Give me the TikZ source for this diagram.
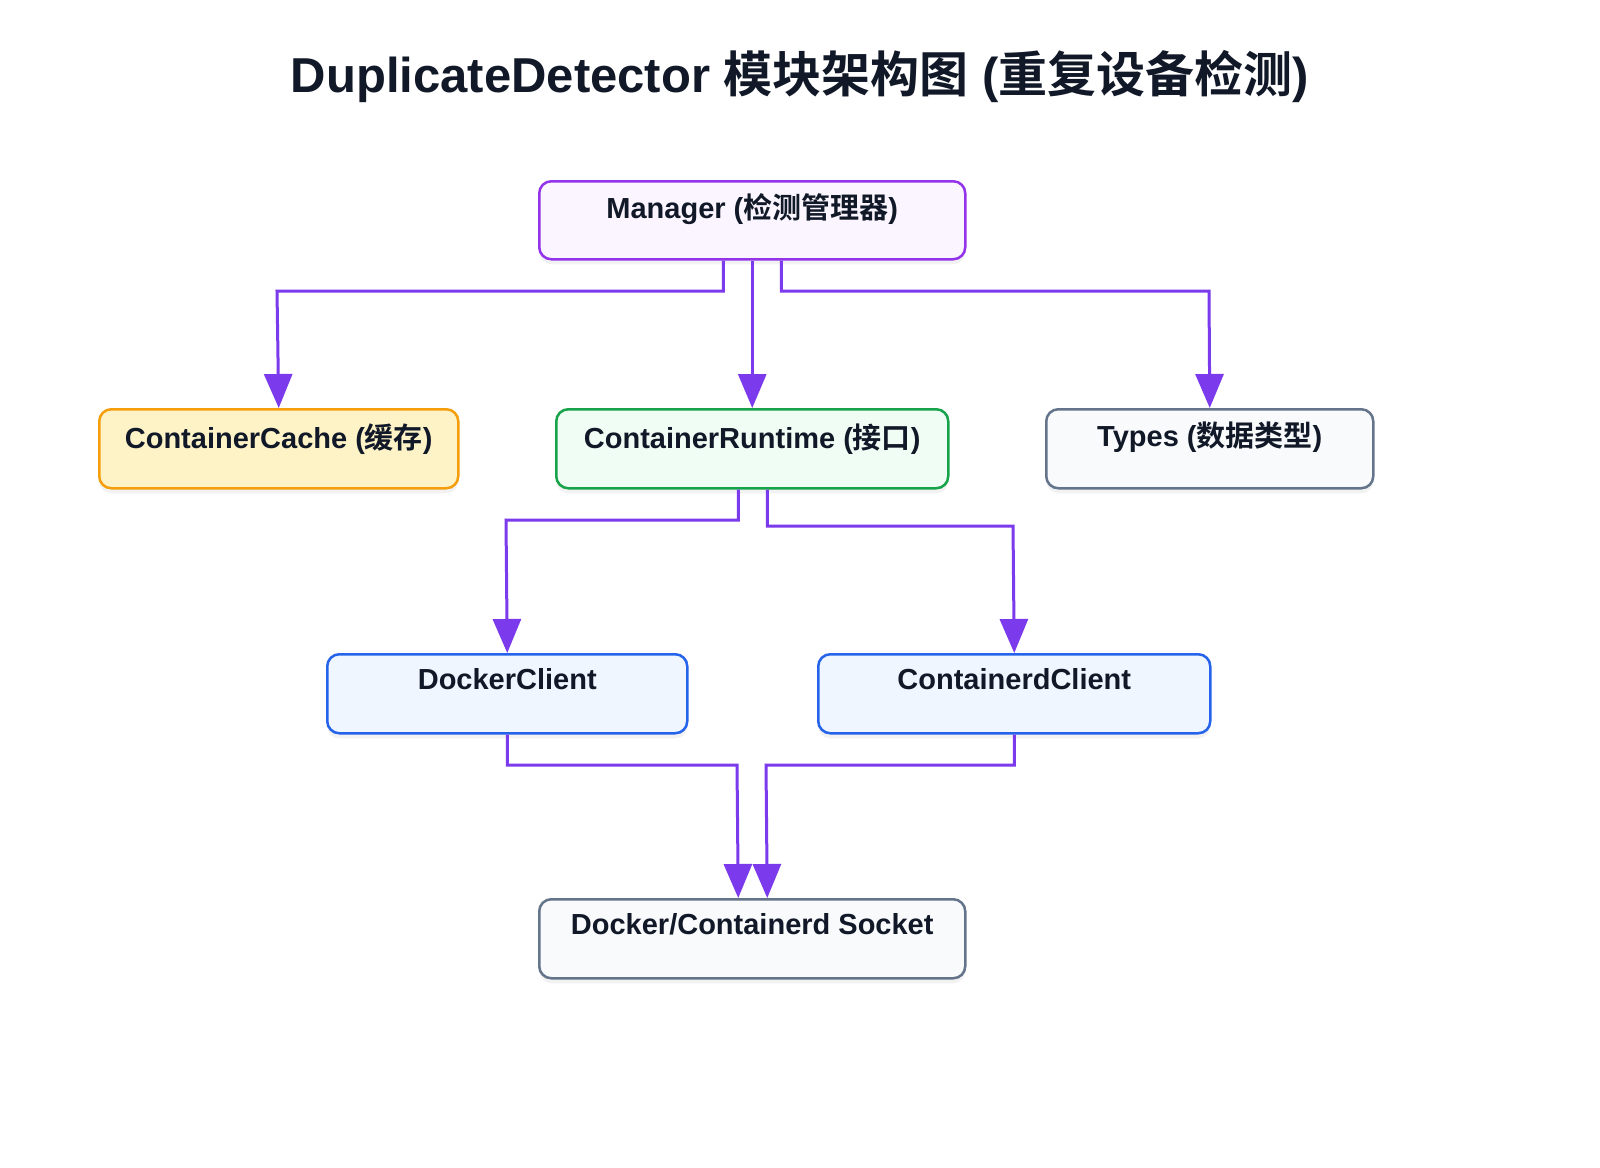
\documentclass[tikz,border=0pt]{standalone}
\usepackage{fontspec}
\setmainfont{Liberation Sans}
\newfontfamily\cjk{Noto Sans CJK SC}[BoldFont={Noto Sans CJK SC Bold}]
\usetikzlibrary{arrows.meta,calc,shadows}
\definecolor{edge}{HTML}{7C3AED}
\definecolor{ink}{HTML}{111827}
\definecolor{pB}{HTML}{9333EA}\definecolor{pF}{HTML}{FAF5FF}
\definecolor{yB}{HTML}{F59E0B}\definecolor{yF}{HTML}{FEF3C7}
\definecolor{gB}{HTML}{16A34A}\definecolor{gF}{HTML}{F0FDF4}
\definecolor{sB}{HTML}{64748B}\definecolor{sF}{HTML}{F8FAFC}
\definecolor{bB}{HTML}{2563EB}\definecolor{bF}{HTML}{EFF6FF}
\tikzset{
 box/.style={draw, line width=2.5pt, rounded corners=12pt, anchor=north west, inner sep=0pt,
   drop shadow={shadow xshift=0pt,shadow yshift=-5pt,opacity=0.1}},
 lbl/.style={font=\bfseries\fontsize{29}{33}\selectfont, text=ink, anchor=north},
 conn/.style={draw=edge, line width=3pt, -{Triangle[length=34pt,width=28pt]}},
}
\newcommand{\zh}[1]{{\cjk\bfseries #1}}
\begin{document}
\begin{tikzpicture}[x=1pt,y=-1pt]
\useasboundingbox[fill=white] (0,0) rectangle (1600,1167);
\node[font=\bfseries\fontsize{49}{55}\selectfont, text=ink] (title) at (800,76) {DuplicateDetector \zh{模块架构图} (\zh{重复设备检测})};
\node[box, draw=pB, fill=pF, minimum width=426, minimum height=78] at (538,180) (m) {};
\node[lbl] (mt) at ($(m.north)+(0,10)$) {Manager (\zh{检测管理器})};
\node[box, draw=yB, fill=yF, minimum width=359, minimum height=79] at (98,408) (cc) {};
\node[lbl] (cct) at ($(cc.north)+(0,12)$) {ContainerCache (\zh{缓存})};
\node[box, draw=gB, fill=gF, minimum width=392, minimum height=79] at (555,408) (cr) {};
\node[lbl] (crt) at ($(cr.north)+(0,12)$) {ContainerRuntime (\zh{接口})};
\node[box, draw=sB, fill=sF, minimum width=327, minimum height=79] at (1045,408) (ty) {};
\node[lbl] (tyt) at ($(ty.north)+(0,10)$) {Types (\zh{数据类型})};
\node[box, draw=bB, fill=bF, minimum width=360, minimum height=79] at (326,653) (dc) {};
\node[lbl] (dct) at ($(dc.north)+(0,12)$) {DockerClient};
\node[box, draw=bB, fill=bF, minimum width=392, minimum height=79] at (817,653) (ct) {};
\node[lbl] (ctt) at ($(ct.north)+(0,12)$) {ContainerdClient};
\node[box, draw=sB, fill=sF, minimum width=426, minimum height=79] at (538,898) (so) {};
\node[lbl] (sot) at ($(so.north)+(0,12)$) {Docker/Containerd Socket};
% edges
\draw[conn] ($(m.south)+(-29,0)$) |- (277,291) -- (cc.north);
\draw[conn] (m.south) -- (cr.north);
\draw[conn] ($(m.south)+(29,0)$) |- (1209,291) -- (ty.north);
\draw[conn] ($(cr.south)+(-14,0)$) |- (506,520) -- (dc.north);
\draw[conn] ($(cr.south)+(15,0)$) |- (1013,526) -- (ct.north);
\draw[conn] (dc.south) |- (737,765) -- ($(so.north)+(-14,0)$);
\draw[conn] (ct.south) |- (766,765) -- ($(so.north)+(15,0)$);
\end{tikzpicture}
\end{document}
